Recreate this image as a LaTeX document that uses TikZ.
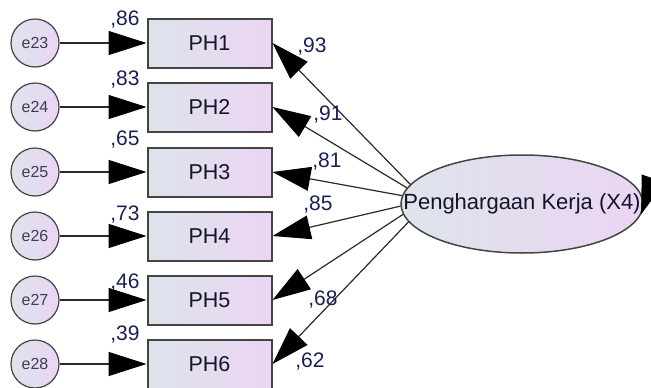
\documentclass[tikz,border=0pt]{standalone}
\usepackage{fontspec}
\setmainfont{Liberation Sans}
\usetikzlibrary{arrows.meta,shapes.geometric}
\definecolor{fillL}{HTML}{DDE4EC}
\definecolor{fillR}{HTML}{EBD5F2}
\definecolor{edgec}{HTML}{444444}
\definecolor{linec}{HTML}{2A2A2A}
\definecolor{ntxt}{HTML}{141428}
\definecolor{numc}{HTML}{1A2050}
\definecolor{etxt}{HTML}{3C3C58}
\begin{document}
\begin{tikzpicture}[x=1pt,y=-1pt,
  errnode/.style={circle, draw=edgec, line width=1.2pt, minimum size=48pt, inner sep=0pt,
    left color=fillL, right color=fillR, text=etxt, font=\fontsize{16}{16}\selectfont},
  obsbox/.style={rectangle, draw=edgec, line width=2pt, minimum width=124pt, minimum height=49pt,
    inner sep=0pt, left color=fillL, right color=fillR, text=ntxt, font=\fontsize{21.5}{22}\selectfont},
  latent/.style={ellipse, draw=edgec, line width=1.5pt, minimum width=242pt, minimum height=98pt,
    inner sep=0pt, left color=fillL, right color=fillR},
  lattext/.style={inner sep=0pt, text=ntxt, font=\fontsize{22}{22}\selectfont},
  numlab/.style={inner sep=0pt, text=numc, font=\fontsize{21}{21}\selectfont},
  arr/.style={draw=linec, line width=1.2pt, -{Triangle[length=38pt,width=24pt,color=black]}}
]
\useasboundingbox (0,0) rectangle (651,388);
\clip (0,0) rectangle (651,388);

% latent
\node[latent] (ell) at (522,204) {};
\node[lattext] (ellt) at (522,204) {Penghargaan Kerja (X4)};

% error circles and observed boxes
\node[errnode] (e23) at (35,43) {e23};
\node[errnode] (e24) at (35,107) {e24};
\node[errnode] (e25) at (35,172) {e25};
\node[errnode] (e26) at (35,236) {e26};
\node[errnode] (e27) at (35,300) {e27};
\node[errnode] (e28) at (35,364) {e28};

\node[obsbox] (ph1) at (209.5,43) {PH1};
\node[obsbox] (ph2) at (209.5,107) {PH2};
\node[obsbox] (ph3) at (209.5,172) {PH3};
\node[obsbox] (ph4) at (209.5,236) {PH4};
\node[obsbox] (ph5) at (209.5,300) {PH5};
\node[obsbox] (ph6) at (209.5,364) {PH6};

% error arrows
\draw[arr] (e23) -- (ph1);
\draw[arr] (e24) -- (ph2);
\draw[arr] (e25) -- (ph3);
\draw[arr] (e26) -- (ph4);
\draw[arr] (e27) -- (ph5);
\draw[arr] (e28) -- (ph6);

% loading arrows
\draw[arr] (ell.170) -- (ph1.east);
\draw[arr] (ell.172) -- (ph2.east);
\draw[arr] (ell.176) -- (ph3.east);
\draw[arr] (ell.181) -- (ph4.east);
\draw[arr] (ell.185) -- (ph5.east);
\draw[arr] (ell.189) -- (ph6.east);

% partial arrow entering from the right
\coordinate (ext) at (690,70);
\draw[arr] (ext) -- (ell.-5);

% squared multiple correlations
\node[numlab] (r1) at (125,20) {,86};
\node[numlab] (r2) at (125,80) {,83};
\node[numlab] (r3) at (125,140) {,65};
\node[numlab] (r4) at (125,215) {,73};
\node[numlab] (r5) at (125,283) {,46};
\node[numlab] (r6) at (125,335) {,39};

% loadings
\node[numlab] (l1) at (312,47) {,93};
\node[numlab] (l2) at (328,115) {,91};
\node[numlab] (l3) at (327,162) {,81};
\node[numlab] (l4) at (318,205) {,85};
\node[numlab] (l5) at (323,300) {,68};
\node[numlab] (l6) at (310,362) {,62};
\end{tikzpicture}
\end{document}
